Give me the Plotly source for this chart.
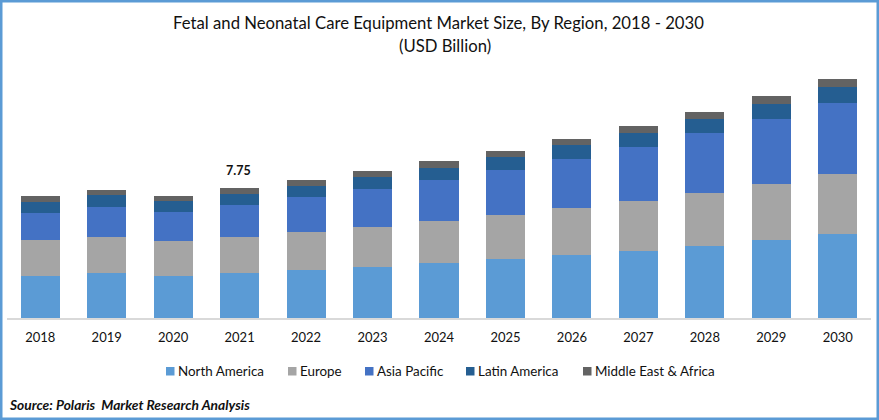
"""
Fetal and neonatal care equipment market size by region, stacked columns
"""

import plotly.graph_objects as go

years = ['2018', '2019', '2020', '2021', '2022', '2023', '2024',
         '2025', '2026', '2027', '2028', '2029', '2030']

north_america = [2.50, 2.68, 2.50, 2.68, 2.86, 3.04, 3.28, 3.52, 3.76, 4.00, 4.29, 4.65, 5.01]
europe = [2.15, 2.15, 2.09, 2.15, 2.27, 2.39, 2.50, 2.62, 2.80, 2.98, 3.16, 3.34, 3.58]
asia_pacific = [1.61, 1.79, 1.73, 1.91, 2.09, 2.27, 2.44, 2.68, 2.92, 3.22, 3.58, 3.88, 4.23]
latin_america = [0.66, 0.72, 0.66, 0.66, 0.66, 0.72, 0.72, 0.78, 0.83, 0.83, 0.83, 0.89, 0.95]
middle_east_africa = [0.36, 0.30, 0.30, 0.35, 0.36, 0.36, 0.42, 0.36, 0.36, 0.42, 0.42, 0.48, 0.48]

series = [
    ('North America', north_america, '#5B9BD5'),
    ('Europe', europe, '#A5A5A5'),
    ('Asia Pacific', asia_pacific, '#4472C4'),
    ('Latin America', latin_america, '#255E91'),
    ('Middle East & Africa', middle_east_africa, '#636363'),
]

# left edge of each legend swatch, px from the left of the picture
legend_x = [166, 288, 365, 466, 583]

W, H = 879, 420
FONT = 'Lato, Carlito, Calibri, sans-serif'

fig = go.Figure()

for name, values, color in series:
    fig.add_trace(go.Bar(name=name, x=years, y=values, marker_color=color,
                         marker_line_width=0, showlegend=False))

# Only 2021 carries a total label
total_2021 = sum(values[3] for _, values, _ in series)

fig.add_annotation(x=years.index('2021'), y=total_2021, text=f'<b>{total_2021:.2f}</b>',
                   showarrow=False, yanchor='bottom', yshift=8, xshift=-1.5,
                   font=dict(size=12.5, color='#111111'))

# Second title line sits a little right of the first in the original
fig.add_annotation(xref='paper', yref='paper', x=444.5 / W, y=1 - 46 / H,
                   xanchor='center', yanchor='middle', showarrow=False,
                   text='(USD Billion)', font=dict(size=16.7, color='#111111'))

# Legend is drawn by hand, the native one spaces swatch and text too far apart
for (name, values, color), px in zip(series, legend_x):
    fig.add_shape(type='rect', xref='paper', yref='paper',
                  x0=px / W, x1=(px + 8.5) / W,
                  y0=1 - 375.5 / H, y1=1 - 367 / H,
                  fillcolor=color, line_width=0)
    fig.add_annotation(xref='paper', yref='paper', x=(px + 10) / W, y=1 - 371 / H,
                       xanchor='left', yanchor='middle', showarrow=False, text=name,
                       font=dict(size=13.4, color='#111111'))

# Source line
fig.add_annotation(xref='paper', yref='paper', x=7 / W, y=1 - 404 / H,
                   xanchor='left', yanchor='middle', showarrow=False,
                   text='<b><i>Source: Polaris  Market Research Analysis</i></b>',
                   font=dict(size=13.8, color='#111111'))

# Blue picture frame
fig.add_shape(type='rect', xref='paper', yref='paper', x0=0, x1=1, y0=0, y1=1,
              line=dict(color='#5B9BD5', width=5), fillcolor='rgba(0,0,0,0)')

fig.update_layout(
    width=W,
    height=H,
    barmode='stack',
    bargap=0.413,
    font=dict(family=FONT, size=13, color='#111111'),
    paper_bgcolor='white',
    plot_bgcolor='white',
    margin=dict(l=0, r=0, t=0, b=0, pad=0, autoexpand=False),
    title=dict(
        text='Fetal and Neonatal Care Equipment Market Size, By Region, 2018 - 2030',
        x=438.5 / W,
        xanchor='center',
        y=1 - 23 / H,
        yanchor='middle',
        font=dict(size=16.7, color='#111111'),
    ),
    xaxis=dict(
        domain=[7 / W, 871 / W],
        type='category',
        categoryorder='array',
        categoryarray=years,
        range=[-0.5, 12.5],
        showgrid=False,
        showline=True,
        linecolor='#D9D9D9',
        linewidth=1.5,
        ticks='outside',
        ticklen=7,
        tickcolor='rgba(0,0,0,0)',
    ),
    yaxis=dict(
        domain=[1 - 318 / H, 1 - 60 / H],
        range=[0, 15.385],
        visible=False,
    ),
)

fig.write_html('out.html', config=dict(displayModeBar=False),
               post_script="document.body.style.margin='0';")
